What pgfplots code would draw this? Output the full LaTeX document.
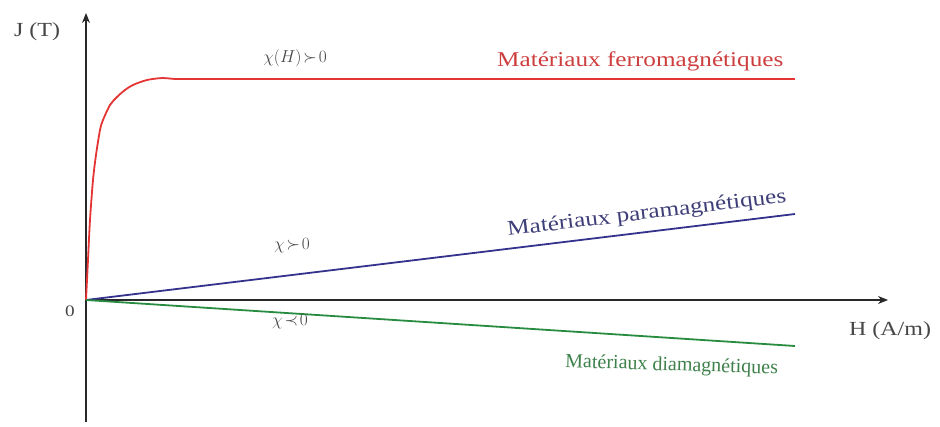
\documentclass[border=0pt]{standalone}
\usepackage{pgfplots}
\pgfplotsset{compat=1.18}
\usepackage{fontspec}
\setmainfont{Liberation Serif}[FakeStretch=1.2]
\newfontfamily\plainserif{Liberation Serif}
\usetikzlibrary{arrows.meta}
\definecolor{ferro}{RGB}{228,52,52}
\definecolor{para}{RGB}{52,50,140}
\definecolor{dia}{RGB}{40,140,64}
\definecolor{ferrotxt}{RGB}{205,62,62}
\definecolor{paratxt}{RGB}{62,62,120}
\definecolor{diatxt}{RGB}{62,128,74}
\definecolor{axisgray}{RGB}{40,40,40}
\definecolor{labgray}{RGB}{70,70,70}
\begin{document}
\begin{tikzpicture}
\begin{axis}[
  scale only axis, width=940pt, height=426pt,
  xmin=0, xmax=940, ymin=0, ymax=426,
  hide axis, clip=false,
]
% full drawing area
\path (axis cs:0,0) rectangle (axis cs:940,426);
% axes
\addplot[axisgray, line width=1.4pt, -{Stealth[length=10pt,width=8pt]}] coordinates {(86,4) (86,413)};
\addplot[axisgray, line width=1.4pt, -{Stealth[length=10pt,width=8pt]}] coordinates {(86,126) (888,126)};
% ferromagnetic: fast saturation
\addplot[ferro, line width=1.8pt, smooth, tension=0.5] coordinates {
  (86,126) (88,166) (90,206) (93,246) (96,271) (100,296) (103,306)
  (110,321) (117,329) (125,336) (133,341) (147,346) (163,348) (177,347) (220,347)};
\addplot[ferro, line width=1.8pt] coordinates {(220,347) (795,347)};
% paramagnetic
\addplot[para, line width=1.8pt] coordinates {(86,126) (795,212)};
% diamagnetic
\addplot[dia, line width=1.8pt] coordinates {(86,126) (795,80)};
% labels
\node[labgray, font=\fontsize{20}{22}\selectfont] at (axis cs:37,394) {J (T)};
\node[labgray, font=\fontsize{16}{18}\selectfont] at (axis cs:70,115) {0};
\node[labgray, font=\fontsize{20}{22}\selectfont] at (axis cs:890,95) {H (A/m)};
\node[labgray, font=\fontsize{18}{20}\selectfont] at (axis cs:295,368) {$\chi(H)\!\succ\! 0$};
\node[labgray, font=\fontsize{18}{20}\selectfont] at (axis cs:292,180) {$\chi\!\succ\! 0$};
\node[labgray, font=\fontsize{18}{20}\selectfont] at (axis cs:290,104) {$\chi\!\prec\! 0$};
\node[ferrotxt, font=\fontsize{21}{23}\selectfont, anchor=base west, inner sep=0pt] at (axis cs:497,359) {Matériaux ferromagnétiques};
\node[paratxt, font=\fontsize{21}{23}\selectfont, rotate=6.9, anchor=base west, inner sep=0pt] at (axis cs:508,190) {Matériaux paramagnétiques};
\node[diatxt, font=\plainserif\fontsize{20}{22}\selectfont, rotate=-1.8, anchor=base east, inner sep=0pt] at (axis cs:778,52) {Matériaux diamagnétiques};
\end{axis}
\end{tikzpicture}
\end{document}
